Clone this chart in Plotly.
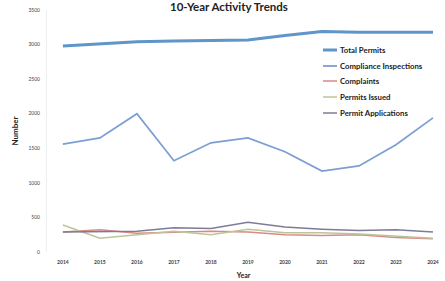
import plotly.graph_objects as go

years = [2014, 2015, 2016, 2017, 2018, 2019, 2020, 2021, 2022, 2023, 2024]
year_labels = [str(y) for y in years]

total_permits = [2980, 3010, 3040, 3050, 3060, 3065, 3130, 3190, 3180, 3180, 3180]
compliance_inspections = [1560, 1650, 2000, 1320, 1580, 1650, 1450, 1170, 1245, 1550, 1940]
complaints = [290, 320, 270, 290, 300, 290, 250, 240, 250, 210, 190]
permits_issued = [390, 200, 250, 300, 250, 330, 280, 280, 260, 230, 200]
permit_applications = [290, 290, 300, 350, 340, 430, 360, 330, 310, 320, 290]

series = [
    ("Total Permits", total_permits, "#5f95c8", 3),
    ("Compliance Inspections", compliance_inspections, "#7c9fd3", 1.8),
    ("Complaints", complaints, "#d98a87", 1.5),
    ("Permits Issued", permits_issued, "#bcc59a", 1.5),
    ("Permit Applications", permit_applications, "#7e7b98", 1.5),
]

W, H = 445, 281
ML, MR, MT, MB = 47, 5, 10, 29
PW, PH = W - ML - MR, H - MT - MB


def px_x(px):
    return (px - ML) / PW


def px_y(py):
    return (H - MB - py) / PH


fig = go.Figure()
for name, vals, color, w in series:
    fig.add_trace(go.Scatter(x=years, y=vals, mode="lines", name=name,
                             line=dict(color=color, width=w), showlegend=False))

font_family = "Lato, Open Sans, sans-serif"

# custom compact legend
legend_rows = [50, 66, 81, 97, 113]
shapes = []
annotations = []
for (name, vals, color, w), ry in zip(series, legend_rows):
    shapes.append(dict(type="line", xref="paper", yref="paper",
                       x0=px_x(323), x1=px_x(337), y0=px_y(ry), y1=px_y(ry),
                       line=dict(color=color, width=w)))
    annotations.append(dict(text=f"<b>{name}</b>", xref="paper", yref="paper",
                            x=px_x(338), y=px_y(ry), xanchor="left", yanchor="middle",
                            showarrow=False, font=dict(size=7.8, color="#222222", family=font_family)))

annotations.append(dict(text="<b>10-Year Activity Trends</b>", xref="paper", yref="paper",
                        x=px_x(229), y=px_y(6), xanchor="center", yanchor="middle",
                        showarrow=False, font=dict(size=11.5, color="#222222", family=font_family)))

fig.update_layout(
    width=W, height=H,
    margin=dict(l=ML, r=MR, t=MT, b=MB, autoexpand=False),
    paper_bgcolor="white", plot_bgcolor="white",
    font=dict(family=font_family, color="#333333"),
    showlegend=False,
    shapes=shapes,
    annotations=annotations,
)
fig.update_xaxes(range=[2013.57, 2024.19], tickmode="array", tickvals=years,
                 ticktext=[f"<b>{t}</b>" for t in year_labels],
                 tickfont=dict(size=5, color="#444444"), showgrid=False, zeroline=False,
                 showline=False, ticks="", automargin=False, ticklabelstandoff=6,
                 title=dict(text="<b>Year</b>", font=dict(size=7, color="#222222"), standoff=9))
fig.update_yaxes(range=[0, 3500], dtick=500, tickfont=dict(size=5, color="#444444"),
                 showgrid=False, zeroline=False, showline=True, linecolor="#eeeeee", linewidth=1,
                 ticks="", tickformat="d", automargin=False, ticklabelstandoff=5,
                 title=dict(text="<b>Number</b>", font=dict(size=8, color="#222222"), standoff=8))
fig.write_html("out.html", config={"displayModeBar": False},
               post_script="document.body.style.margin='0';document.body.style.overflow='hidden';")
